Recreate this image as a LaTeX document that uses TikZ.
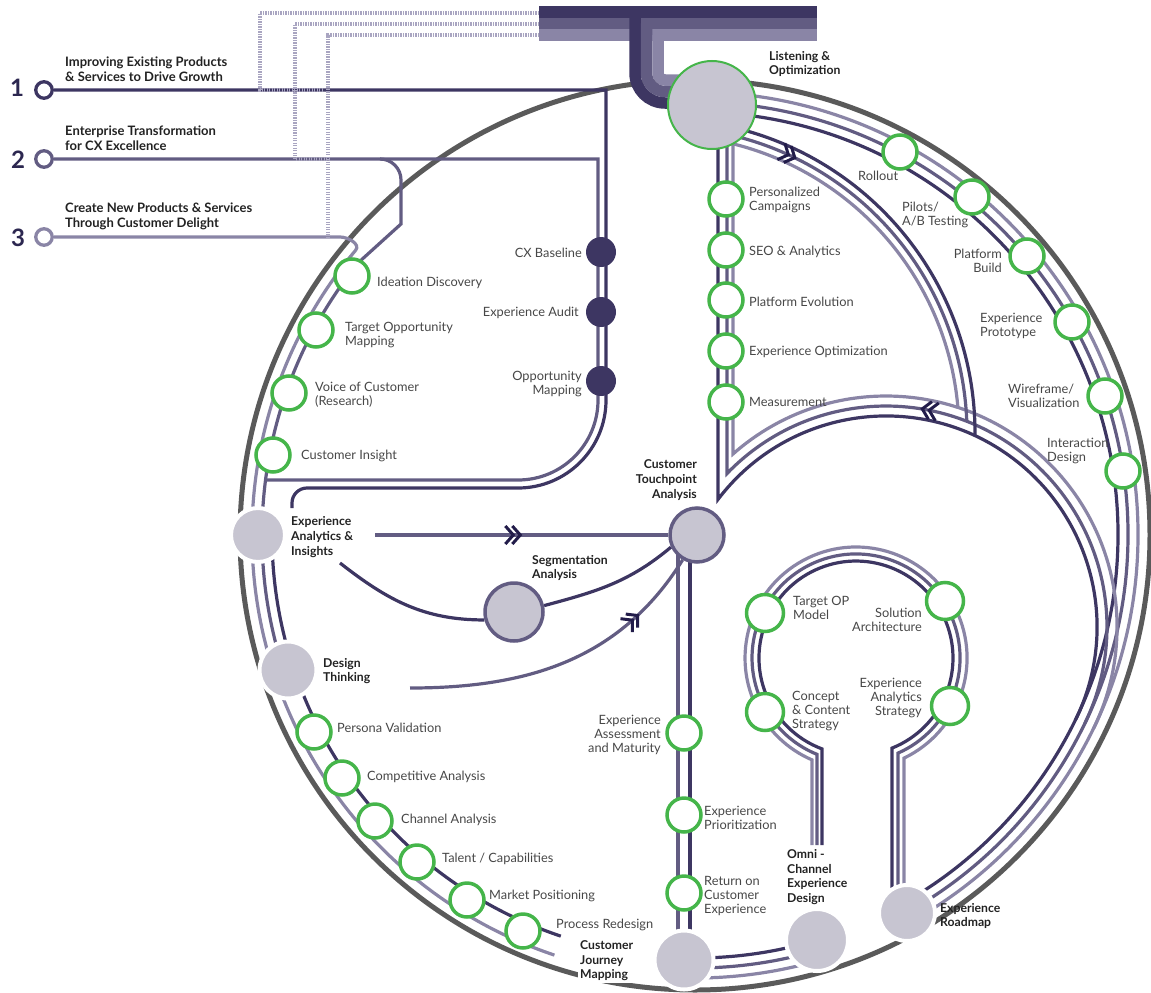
\documentclass[tikz,border=0pt]{standalone}
\usepackage{fontspec}
\setmainfont{Lato}
\usetikzlibrary{decorations.markings}
\pgfdeclarelayer{background}
\pgfsetlayers{background,main}
\definecolor{trackdark}{HTML}{3D3662}
\definecolor{trackmed}{HTML}{625C82}
\definecolor{tracklight}{HTML}{8A85A6}
\definecolor{ringgray}{HTML}{5A5A5A}
\definecolor{stgreen}{HTML}{45B54A}
\definecolor{hubfill}{HTML}{C7C5D1}
\definecolor{dotcol}{HTML}{A9A5C1}
\definecolor{chevcol}{HTML}{221C4A}
\definecolor{lbltext}{HTML}{474747}
\definecolor{blbltext}{HTML}{222222}
\definecolor{numcol}{HTML}{2C2750}

\begin{document}
\begin{tikzpicture}[x=1pt,y=1pt,
  track/.style={line width=3.2pt},
  tdark/.style={track,draw=trackdark},
  tmed/.style={track,draw=trackmed},
  tlight/.style={track,draw=tracklight},
  dotline/.style={draw=dotcol,line width=3.5pt,dash pattern=on 1.3pt off 1.2pt},
  station/.style={circle,draw=stgreen,line width=3.5pt,fill=white,minimum size=34pt,inner sep=0pt},
  bigstation/.style={station,minimum size=37pt},
  hub/.style={circle,fill=hubfill,draw=white,line width=4pt,inner sep=0pt},
  milestone/.style={circle,fill=trackdark,minimum size=30pt,inner sep=0pt},
  marker/.style={circle,fill=white,line width=3.3pt,minimum size=16.5pt,inner sep=0pt},
  lbl/.style={font=\fontsize{12.8}{13.6}\selectfont,text=lbltext,inner sep=0pt},
  hublbl/.style={font=\bfseries\fontsize{12.2}{14.6}\selectfont,text=blbltext,inner sep=0pt},
  title/.style={font=\bfseries\fontsize{13}{15}\selectfont,text=blbltext,inner sep=0pt,align=left,anchor=west},
  num/.style={font=\bfseries\fontsize{24}{24}\selectfont,text=numcol,inner sep=0pt},
  chev/.style={draw=chevcol,line width=3pt},
  chevfwd/.style={postaction={decorate,decoration={markings,mark=at position #1 with {\draw[chev] (-7.5,9) -- (0.5,0) -- (-7.5,-9) (-0.5,9) -- (7.5,0) -- (-0.5,-9);}}}},
  chevback/.style={postaction={decorate,decoration={markings,mark=at position #1 with {\draw[chev] (7.5,9) -- (-0.5,0) -- (7.5,-9) (0.5,9) -- (-7.5,0) -- (0.5,-9);}}}}
]
\useasboundingbox (0,0) rectangle (1151,-993);
\coordinate (C) at (695,-535);
\coordinate (U) at (661,-433);

\node[num] (num1) at (17,-88) {1};
\node[num] (num2) at (18,-160) {2};
\node[num] (num3) at (18,-238) {3};
\node[marker,draw=trackdark] (marker1) at (44,-90) {};
\node[marker,draw=trackmed] (marker2) at (44,-159) {};
\node[marker,draw=tracklight] (marker3) at (44,-237) {};
\node[title] (t1) at (65,-69) {Improving Existing Products\\\& Services to Drive Growth};
\node[title] (t2) at (65,-138) {Enterprise Transformation\\for CX Excellence};
\node[title] (t3) at (65,-216) {Create New Products \& Services\\Through Customer Delight};

\node[hub,draw=stgreen,line width=2pt,minimum size=88pt] (listen) at (712,-105) {};
\node[hub,draw=trackmed,line width=3.5pt,minimum size=54pt] (touch) at (697,-535) {};
\node[hub,draw=trackmed,line width=3.5pt,minimum size=58pt] (seg) at (514,-612) {};
\node[hub,minimum size=54pt] (eanalytics) at (258,-535) {};
\node[hub,minimum size=57pt] (dthink) at (288,-670) {};
\node[hub,minimum size=59pt] (cjm) at (684,-960) {};
\node[hub,minimum size=62pt] (omni) at (817,-940) {};
\node[hub,minimum size=56pt] (roadmap) at (907,-913) {};

\node[milestone] (cxbase) at (601,-252) {};
\node[milestone] (expaudit) at (601,-312) {};
\node[milestone] (oppmap) at (601,-381) {};

\node[station] (rollout) at (900,-152) {};
\node[station] (pilots) at (972,-197) {};
\node[station] (pbuild) at (1027,-256) {};
\node[station] (eproto) at (1072,-322) {};
\node[station] (wirefr) at (1105,-396) {};
\node[station] (interact) at (1123,-471) {};
\node[station] (perscamp) at (726,-199) {};
\node[station] (seo) at (726,-250) {};
\node[station] (platevo) at (726,-300) {};
\node[station] (expopt) at (726,-351) {};
\node[station] (measure) at (726,-402) {};
\node[station] (ideation) at (352,-276) {};
\node[station] (targetopp) at (316,-330) {};
\node[station] (voice) at (289,-393) {};
\node[station] (custins) at (273,-455) {};
\node[station] (persona) at (314,-732) {};
\node[station] (compet) at (342,-778) {};
\node[station] (channel) at (375,-821) {};
\node[station] (talent) at (417,-862) {};
\node[station] (market) at (467,-900) {};
\node[station] (procred) at (523,-931) {};
\node[bigstation] (targetop) at (765,-613) {};
\node[bigstation] (solarch) at (945,-601) {};
\node[bigstation] (concept) at (765,-712) {};
\node[bigstation] (anastrat) at (950,-706) {};
\node[station] (assess) at (684,-733) {};
\node[station] (prior) at (684,-815) {};
\node[station] (roce) at (684,-893) {};

\node[lbl,anchor=west] (lideation) at (377,-283) {Ideation Discovery};
\node[lbl,anchor=west,align=left] (ltargetopp) at (345,-335) {Target Opportunity\\Mapping};
\node[lbl,anchor=west,align=left] (lvoice) at (315,-395) {Voice of Customer\\(Research)};
\node[lbl,anchor=west] (lcustins) at (301,-456) {Customer Insight};
\node[lbl,anchor=east] (lcxbase) at (582,-253) {CX Baseline};
\node[lbl,anchor=east] (lexpaudit) at (579,-313) {Experience Audit};
\node[lbl,anchor=east,align=right] (loppmap) at (582,-384) {Opportunity\\Mapping};
\node[lbl,anchor=west,align=left] (lperscamp) at (749,-200) {Personalized\\Campaigns};
\node[lbl,anchor=west] (lseo) at (749,-252) {SEO \& Analytics};
\node[lbl,anchor=west] (lplatevo) at (749,-302) {Platform Evolution};
\node[lbl,anchor=west] (lexpopt) at (749,-352) {Experience Optimization};
\node[lbl,anchor=west] (lmeasure) at (749,-402) {Measurement};
\node[lbl,anchor=west] (lrollout) at (858,-176) {Rollout};
\node[lbl,anchor=west,align=left] (lpilots) at (902,-215) {Pilots/\\A/B Testing};
\node[lbl,anchor=east,align=right] (lpbuild) at (1002,-261) {Platform\\Build};
\node[lbl,anchor=west,align=left] (leproto) at (980,-326) {Experience\\Prototype};
\node[lbl,anchor=west,align=left] (lwirefr) at (1008,-396) {Wireframe/\\Visualization};
\node[lbl,anchor=west,align=left] (linteract) at (1047,-451) {Interaction\\Design};
\node[lbl,anchor=west,align=left] (ltargetop) at (793,-608) {Target OP\\Model};
\node[lbl,anchor=east,align=right] (lsolarch) at (922,-620) {Solution\\Architecture};
\node[lbl,anchor=west,align=left] (lconcept) at (792,-711) {Concept\\\& Content\\Strategy};
\node[lbl,anchor=east,align=right] (lanastrat) at (922,-698) {Experience\\Analytics\\Strategy};
\node[lbl,anchor=east,align=right] (lassess) at (661,-735) {Experience\\Assessment\\and Maturity};
\node[lbl,anchor=west,align=left] (lprior) at (704,-818) {Experience\\Prioritization};
\node[lbl,anchor=west,align=left] (lroce) at (704,-896) {Return on\\Customer\\Experience};
\node[lbl,anchor=west] (lpersona) at (337,-728) {Persona Validation};
\node[lbl,anchor=west] (lcompet) at (367,-777) {Competitive Analysis};
\node[lbl,anchor=west] (lchannel) at (401,-820) {Channel Analysis};
\node[lbl,anchor=west] (ltalent) at (442,-859) {Talent / Capabilities};
\node[lbl,anchor=west] (lmarket) at (489,-896) {Market Positioning};
\node[lbl,anchor=west] (lprocred) at (556,-925) {Process Redesign};

\node[hublbl,anchor=west,align=left] (llisten) at (769,-64) {Listening \&\\Optimization};
\node[hublbl,anchor=east,align=right] (ltouch) at (697,-480) {Customer\\Touchpoint\\Analysis};
\node[hublbl,anchor=west,align=left] (leanalytics) at (291,-537) {Experience\\Analytics \&\\Insights};
\node[hublbl,anchor=west,align=left] (lseg) at (532,-568) {Segmentation\\Analysis};
\node[hublbl,anchor=west,align=left] (ldthink) at (323,-671) {Design\\Thinking};
\node[hublbl,anchor=west,align=left,fill=white,inner sep=2pt] (lcjm) at (578,-961) {Customer\\Journey\\Mapping};
\node[hublbl,anchor=west,align=left] (lomni) at (787,-877) {Omni -\\Channel\\Experience\\Design};
\node[hublbl,anchor=west,align=left] (lroadmap) at (940,-916) {Experience\\Roadmap};

\coordinate (ealine) at (375,-535);
\coordinate (eacurve) at (340,-563);
\coordinate (dtcurve) at (410,-688);

\begin{pgfonlayer}{background}
\draw[ringgray,line width=5pt] (C) circle[radius=455pt];

\fill[trackdark] (539,-6) rectangle (817,-17.5);
\fill[trackmed] (539,-17.5) rectangle (817,-29.3);
\fill[tracklight] (539,-29.3) rectangle (817,-40.7);
\draw[trackdark,line width=11.5pt] (635,-11.75) -- (635,-73) arc[start angle=180,end angle=270,radius=30pt] -- (700,-103);
\draw[trackmed,line width=11.5pt] (646.5,-23.4) -- (646.5,-73) arc[start angle=180,end angle=270,radius=18.5pt] -- (700,-91.5);
\draw[tracklight,line width=11.5pt] (658,-35) -- (658,-73) arc[start angle=180,end angle=270,radius=7pt] -- (700,-80);

\draw[tdark] (marker1) -- (606,-90) -- (606,-400) arc[start angle=0,end angle=-90,radius=88pt] -- (307,-488) arc[start angle=90,end angle=180,radius=15pt] -- (292,-508);
\draw[tmed] (marker2) -- (598,-159) -- (598,-400) arc[start angle=0,end angle=-90,radius=80pt] -- (265.5,-480);
\draw[tmed] (380,-159) arc[start angle=90,end angle=0,radius=21pt] -- (401,-224) -- (358.5,-262.5) arc[start angle=141,end angle=198.5,radius=433pt];
\draw[tlight] (marker3) -- (340,-237) to[out=0,in=50] (355.64,-250.24) arc[start angle=140,end angle=251.5,radius=443pt];
\draw[tdark] (C) ++(180:423pt) arc[start angle=180,end angle=251.5,radius=423pt];

\draw[dotline] (539,-13) -- (260,-13) -- (260,-90) -- (322,-90);
\draw[dotline] (539,-24) -- (295,-24) -- (295,-159) -- (330,-159);
\draw[dotline] (539,-35) -- (328,-35) -- (328,-237);

\foreach \r/\c in {443/tracklight,433/trackmed,423/trackdark}
  \draw[track,draw=\c] (C) ++(86:\r pt) arc[start angle=86,end angle=-61,radius=\r pt];
\foreach \r/\c in {443/tracklight,433/trackmed,423/trackdark}
  \draw[track,draw=\c] (C) ++(-91:\r pt) arc[start angle=-91,end angle=-73,radius=\r pt];

\draw[tdark] (718,-140) -- (718,-499.4) arc[start angle=142.8,end angle=-26,radius=211pt];
\draw[tlight] (733,-140) -- (733,-454) arc[start angle=131.5,end angle=-26,radius=231pt];
\draw[tmed,chevback=0.579] (727,-140) -- (727,-473.5) arc[start angle=136,end angle=-26,radius=221pt];

\draw[tdark] (U) ++(78:314pt) arc[start angle=78,end angle=-0.5,radius=314pt];
\draw[tlight] (U) ++(78:298pt) arc[start angle=78,end angle=5,radius=298pt];
\draw[tmed,chevfwd=0.165] (U) ++(78:306pt) arc[start angle=78,end angle=2.2,radius=306pt];

\draw[tdark] (892,-893) -- (892,-748.1) arc[start angle=-68.2,end angle=249.5,radius=97pt] -- (822,-845);
\draw[tmed] (898,-893) -- (898,-753.1) arc[start angle=-66.2,end angle=248,radius=104pt] -- (817,-845);
\draw[tlight] (904,-893) -- (904,-758.1) arc[start angle=-64.4,end angle=246.65,radius=111pt] -- (812,-845);

\draw[tmed] ([xshift=-6pt]cjm.center) -- ([xshift=-6pt]cjm.center |- touch.center);
\draw[tdark] ([xshift=6pt]cjm.center) -- ([xshift=6pt]cjm.center |- touch.center);
\draw[tmed,chevfwd=0.47] (ealine) -- (touch);
\draw[tdark] (eacurve) to[out=-38,in=180] (seg.195);
\draw[tdark] (seg.12) to[out=15,in=-140] (touch.205);
\draw[tmed,chevfwd=0.75] (dtcurve) to[out=0,in=-122] (touch.240);
\end{pgfonlayer}
\end{tikzpicture}
\end{document}
